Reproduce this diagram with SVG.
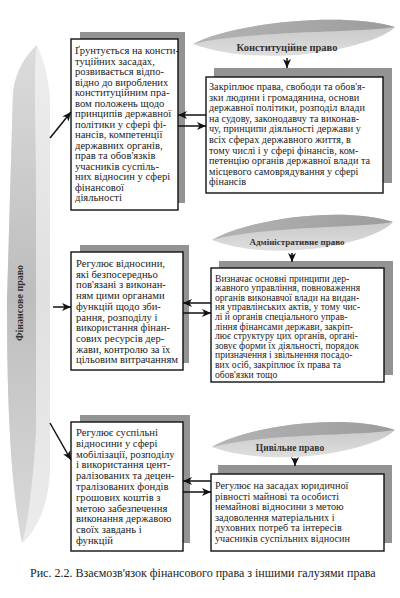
<svg xmlns="http://www.w3.org/2000/svg" width="400" height="598" viewBox="0 0 400 598">
<defs>
<style>
.shadow{fill:#939393}
.box{fill:#fff;stroke:#111;stroke-width:1.4}
.t{font-family:"Liberation Serif","Times New Roman",serif;fill:#222}
.lab{font-family:"Liberation Serif","Times New Roman",serif;font-weight:bold;fill:#333;text-anchor:middle}
.face1{fill:url(#ellTop)}
.face2{fill:url(#ellBot)}
.con{stroke:#111;stroke-width:1.5;fill:none;marker-end:url(#ah)}
</style>
<marker id="ah" markerUnits="userSpaceOnUse" markerWidth="10" markerHeight="8" refX="9" refY="4" orient="auto">
<path d="M0,0 L9,4 L0,8 L2.5,4 Z" fill="#111"/>
</marker>
<linearGradient id="ellTop" x1="0" y1="0" x2="1" y2="0">
<stop offset="0" stop-color="#b4b4b4"/>
<stop offset="1" stop-color="#9c9c9c"/>
</linearGradient>
<linearGradient id="ellBot" x1="0" y1="0" x2="0" y2="1">
<stop offset="0" stop-color="#c4c4c4"/>
<stop offset="1" stop-color="#dedede"/>
</linearGradient>
<linearGradient id="pilL" x1="0" y1="0" x2="0" y2="1">
<stop offset="0" stop-color="#dcdcdc"/>
<stop offset="0.5" stop-color="#bdbdbd"/>
<stop offset="1" stop-color="#dadada"/>
</linearGradient>
<linearGradient id="pilR" x1="0" y1="0" x2="0" y2="1">
<stop offset="0" stop-color="#eeeeee"/>
<stop offset="0.5" stop-color="#e0e0e0"/>
<stop offset="1" stop-color="#ececec"/>
</linearGradient>
</defs>
<rect width="400" height="598" fill="#fff"/>

<g id="pillar">
<path d="M37,45 C26,55 16,70 13,92 L7,300 C7,400 10,480 22,543 C36,532 49,505 50,470 L50,100 C48,72 42,56 37,45 Z" fill="url(#pilR)"/>
<path d="M37,45 C26,55 16,70 13,92 L7,300 C7,400 10,480 22,543 C29,520 34,470 36,430 L36,200 C36,120 33,70 37,45 Z" fill="url(#pilL)"/>
<text class="lab" font-size="10" transform="translate(23,303) rotate(-90)">Фінансове право</text>
</g>

<g id="ellipse1">
<path class="face2" d="M193,44 C235,22 345,12 395,27 C375,48 265,70 193,44 Z"/>
<path class="face1" d="M193,44 C235,22 345,12 395,27 C360,33 250,30 193,44 Z"/>
<text class="lab" x="287" y="51" font-size="10.5">Конституційне право</text>
</g>
<g id="ellipse2">
<path class="face2" d="M212,240 C250,218 345,206 393,222 C375,243 275,264 212,240 Z"/>
<path class="face1" d="M212,240 C250,218 345,206 393,222 C360,228 265,226 212,240 Z"/>
<text class="lab" x="297" y="245" font-size="9">Адміністративне право</text>
</g>
<g id="ellipse3">
<path class="face2" d="M212,447 C250,425 345,413 395,430 C377,450 275,470 212,447 Z"/>
<path class="face1" d="M212,447 C250,425 345,413 395,430 C362,436 265,433 212,447 Z"/>
<text class="lab" x="290" y="451" font-size="9.5">Цивільне право</text>
</g>

<g id="box1">
<rect class="shadow" x="80" y="32" width="105" height="171"/>
<rect class="box" x="71" y="39" width="107" height="171"/>
<text class="t" font-size="10.6">
<tspan x="75" y="54">Ґрунтується на консти-</tspan>
<tspan x="75" y="64.5">туційних засадах,</tspan>
<tspan x="75" y="75">розвивається відпо-</tspan>
<tspan x="75" y="85.5">відно до вироблених</tspan>
<tspan x="75" y="96">конституційним пра-</tspan>
<tspan x="75" y="106.5">вом положень щодо</tspan>
<tspan x="75" y="117">принципів державної</tspan>
<tspan x="75" y="127.5">політики у сфері фі-</tspan>
<tspan x="75" y="138">нансів, компетенції</tspan>
<tspan x="75" y="148.5">державних органів,</tspan>
<tspan x="75" y="159">прав та обов'язків</tspan>
<tspan x="75" y="169.5">учасників суспіль-</tspan>
<tspan x="75" y="180">них відносин у сфері</tspan>
<tspan x="75" y="190.5">фінансової</tspan>
<tspan x="75" y="201">діяльності</tspan>
</text>
</g>

<g id="boxR1">
<rect class="shadow" x="214" y="68" width="178" height="115"/>
<rect class="box" x="206" y="77" width="177" height="116"/>
<text class="t" font-size="10.2">
<tspan x="209" y="90">Закріплює права, свободи та обов'я-</tspan>
<tspan x="209" y="100.6">зки людини і громадянина, основи</tspan>
<tspan x="209" y="111.2">державної політики, розподіл влади</tspan>
<tspan x="209" y="121.8">на судову, законодавчу та виконав-</tspan>
<tspan x="209" y="132.4">чу, принципи діяльності держави у</tspan>
<tspan x="209" y="143">всіх сферах державного життя, в</tspan>
<tspan x="209" y="153.6">тому числі і у сфері фінансів, ком-</tspan>
<tspan x="209" y="164.2">петенцію органів державної влади та</tspan>
<tspan x="209" y="174.8">місцевого самоврядування у сфері</tspan>
<tspan x="209" y="185.4">фінансів</tspan>
</text>
</g>

<g id="box2">
<rect class="shadow" x="80" y="245" width="109" height="118"/>
<rect class="box" x="71" y="252" width="112" height="118"/>
<text class="t" font-size="10.6">
<tspan x="76" y="267">Регулює відносини,</tspan>
<tspan x="76" y="277.7">які безпосередньо</tspan>
<tspan x="76" y="288.4">пов'язані з виконан-</tspan>
<tspan x="76" y="299.1">ням цими органами</tspan>
<tspan x="76" y="309.8">функцій щодо зби-</tspan>
<tspan x="76" y="320.5">рання, розподілу і</tspan>
<tspan x="76" y="331.2">використання фінан-</tspan>
<tspan x="76" y="341.9">сових ресурсів дер-</tspan>
<tspan x="76" y="352.6">жави, контролю за їх</tspan>
<tspan x="76" y="363.3">цільовим витрачанням</tspan>
</text>
</g>

<g id="boxR2">
<rect class="shadow" x="219" y="261" width="174" height="114"/>
<rect class="box" x="211" y="268" width="173" height="114"/>
<text class="t" font-size="9.6">
<tspan x="215" y="281.5">Визначає основні принципи дер-</tspan>
<tspan x="215" y="291.1">жавного управління, повноваження</tspan>
<tspan x="215" y="300.7">органів виконавчої влади на видан-</tspan>
<tspan x="215" y="310.3">ня управлінських актів, у тому чис-</tspan>
<tspan x="215" y="319.9">лі й органів спеціального управ-</tspan>
<tspan x="215" y="329.5">ління фінансами держави, закріп-</tspan>
<tspan x="215" y="339.1">лює структуру цих органів, органі-</tspan>
<tspan x="215" y="348.7">зовує форми їх діяльності, порядок</tspan>
<tspan x="215" y="358.3">призначення і звільнення посадо-</tspan>
<tspan x="215" y="367.9">вих осіб, закріплює їх права та</tspan>
<tspan x="215" y="377.5">обов'язки тощо</tspan>
</text>
</g>

<g id="box3">
<rect class="shadow" x="80" y="415" width="110" height="128"/>
<rect class="box" x="71" y="422" width="112" height="129"/>
<text class="t" font-size="10.6">
<tspan x="76" y="436">Регулює суспільні</tspan>
<tspan x="76" y="446.8">відносини у сфері</tspan>
<tspan x="76" y="457.6">мобілізації, розподілу</tspan>
<tspan x="76" y="468.4">і використання цент-</tspan>
<tspan x="76" y="479.2">ралізованих та децен-</tspan>
<tspan x="76" y="490">тралізованих фондів</tspan>
<tspan x="76" y="500.8">грошових коштів з</tspan>
<tspan x="76" y="511.6">метою забезпечення</tspan>
<tspan x="76" y="522.4">виконання державою</tspan>
<tspan x="76" y="533.2">своїх завдань і</tspan>
<tspan x="76" y="544">функцій</tspan>
</text>
</g>

<g id="boxR3">
<rect class="shadow" x="218" y="465" width="174" height="78"/>
<rect class="box" x="211" y="474" width="173" height="77"/>
<text class="t" font-size="10.2">
<tspan x="215" y="489">Регулює на засадах юридичної</tspan>
<tspan x="215" y="499.6">рівності майнові та особисті</tspan>
<tspan x="215" y="510.2">немайнові відносини з метою</tspan>
<tspan x="215" y="520.8">задоволення матеріальних і</tspan>
<tspan x="215" y="531.4">духовних потреб та інтересів</tspan>
<tspan x="215" y="542">учасників суспільних відносин</tspan>
</text>
</g>

<g id="connectors">
<line class="con" x1="50" y1="138" x2="71" y2="112"/>
<line class="con" x1="53" y1="307" x2="71" y2="307"/>
<line class="con" x1="50" y1="423" x2="71" y2="460"/>
<line class="con" x1="206" y1="115" x2="178" y2="115"/>
<line class="con" x1="178" y1="126" x2="206" y2="126"/>
<line class="con" x1="211" y1="303" x2="183" y2="303"/>
<line class="con" x1="183" y1="313" x2="211" y2="313"/>
<line class="con" x1="211" y1="481" x2="183" y2="481"/>
<line class="con" x1="183" y1="492" x2="211" y2="492"/>
<line class="con" x1="287" y1="58" x2="287" y2="68"/>
<line class="con" x1="292" y1="253" x2="292" y2="262"/>
<line class="con" x1="295" y1="458" x2="295" y2="466"/>
</g>

<text class="t" x="30" y="577" font-size="12" fill="#333">Рис. 2.2. Взаємозв'язок фінансового права з іншими галузями права</text>
</svg>
